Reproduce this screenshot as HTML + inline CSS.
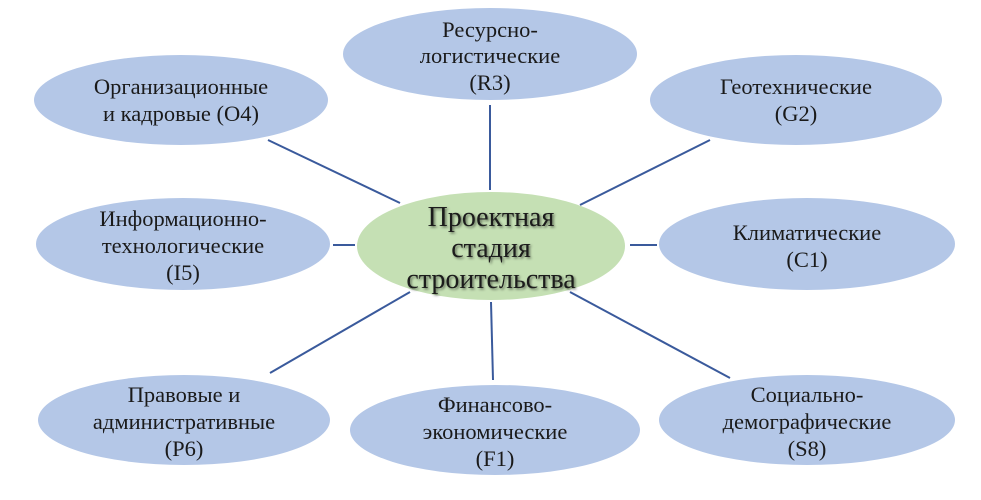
<!DOCTYPE html>
<html><head><meta charset="utf-8"><style>
body{margin:0;background:#fff;}
svg text{font-family:"Liberation Serif",serif;font-size:22.5px;fill:#1a1a1a;text-anchor:middle;}
</style></head><body>
<svg width="981" height="495" viewBox="0 0 981 495" xmlns="http://www.w3.org/2000/svg">
<defs><filter id="sh" x="-10%" y="-10%" width="130%" height="130%"><feGaussianBlur in="SourceAlpha" stdDeviation="1.2"/><feOffset dx="1.5" dy="1.5"/><feComponentTransfer><feFuncA type="linear" slope="0.5"/></feComponentTransfer><feMerge><feMergeNode/><feMergeNode in="SourceGraphic"/></feMerge></filter></defs>
<g stroke="#3a5a9c" stroke-width="2">
<line x1="268" y1="140" x2="400" y2="203"/>
<line x1="490" y1="105" x2="490" y2="190"/>
<line x1="710" y1="140" x2="580" y2="205"/>
<line x1="333" y1="245" x2="355" y2="245"/>
<line x1="657" y1="245" x2="630" y2="245"/>
<line x1="270" y1="373" x2="410" y2="292"/>
<line x1="491" y1="302" x2="493" y2="380"/>
<line x1="570" y1="292" x2="730" y2="378"/>
</g>
<g fill="#b4c7e7">
<ellipse cx="490" cy="54" rx="147" ry="46"/>
<ellipse cx="181" cy="100" rx="147" ry="45"/>
<ellipse cx="796" cy="100" rx="146" ry="45"/>
<ellipse cx="183" cy="244" rx="147" ry="46"/>
<ellipse cx="807" cy="244" rx="148" ry="46"/>
<ellipse cx="184" cy="420" rx="146" ry="45"/>
<ellipse cx="495" cy="430" rx="145" ry="45"/>
<ellipse cx="807" cy="420" rx="148" ry="45"/>
</g>
<ellipse cx="491" cy="246" rx="134" ry="54" fill="#c5e0b4"/>
<text x="490" y="37">Ресурсно-</text><text x="490" y="63">логистические</text><text x="490" y="90">(R3)</text>
<text x="181" y="94">Организационные</text><text x="181" y="121">и кадровые (O4)</text>
<text x="796" y="94">Геотехнические</text><text x="796" y="121">(G2)</text>
<text x="183" y="226">Информационно-</text><text x="183" y="253">технологические</text><text x="183" y="280">(I5)</text>
<text x="807" y="240">Климатические</text><text x="807" y="267">(C1)</text>
<text x="184" y="402">Правовые и</text><text x="184" y="429">административные</text><text x="184" y="456">(P6)</text>
<text x="495" y="412">Финансово-</text><text x="495" y="439">экономические</text><text x="495" y="466">(F1)</text>
<text x="807" y="402">Социально-</text><text x="807" y="429">демографические</text><text x="807" y="456">(S8)</text>
<g filter="url(#sh)"><text x="491" y="226" style="font-size:28px">Проектная</text><text x="491" y="257" style="font-size:28px">стадия</text><text x="491" y="288" style="font-size:28px">строительства</text></g>
</svg>
</body></html>
